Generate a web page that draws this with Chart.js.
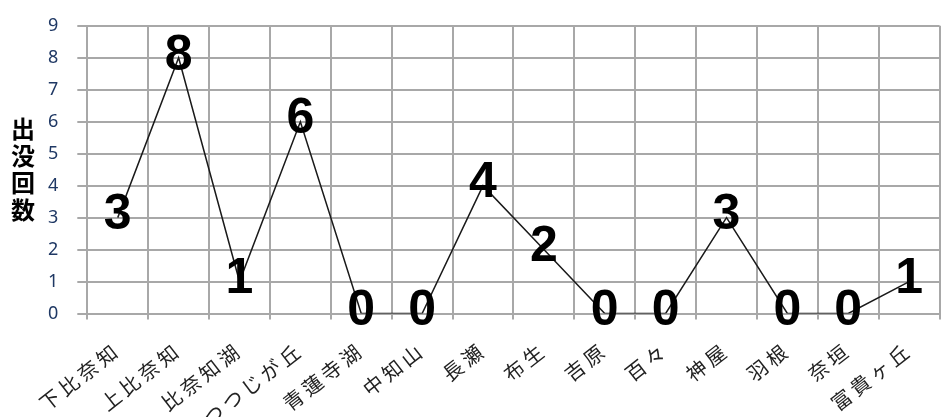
<!DOCTYPE html>
<html>
<head>
<meta charset="utf-8">
<script src="https://cdn.jsdelivr.net/npm/chart.js@4.4.1/dist/chart.umd.min.js"></script>
<style>
  html, body { margin: 0; padding: 0; background: #fff; }
</style>
</head>
<body>
<canvas id="sightingsChart" width="942" height="417"></canvas>
<script>
const areas = ["下比奈知", "上比奈知", "比奈知湖", "つつじが丘", "青蓮寺湖", "中知山", "長瀬", "布生", "吉原", "百々", "神屋", "羽根", "奈垣", "富貴ヶ丘"];
const sightings = [3, 8, 1, 6, 0, 0, 4, 2, 0, 0, 3, 0, 0, 1];
const yTitle = ["出", "没", "回", "数"];
const yMin = 0;
const yMax = 9;
const yStep = 1;

const gridColor = "#a8a8a8";

// the category names in the original are spaced out a bit
const labelSpacing = {
  id: "labelSpacing",
  beforeDraw(chart) { chart.ctx.letterSpacing = "4px"; },
  beforeDatasetsDraw(chart) { chart.ctx.letterSpacing = "0px"; }
};

// big numbers sitting on each point
const pointLabels = {
  id: "pointLabels",
  afterDatasetsDraw(chart) {
    const ctx = chart.ctx;
    const meta = chart.getDatasetMeta(0);
    ctx.save();
    ctx.font = "bold 50px 'Liberation Sans', Arial, sans-serif";
    ctx.fillStyle = "#000";
    ctx.textAlign = "center";
    ctx.textBaseline = "middle";
    meta.data.forEach((pt, i) => {
      ctx.fillText(String(sightings[i]), pt.x, pt.y - 2);
    });
    ctx.restore();
  }
};

// vertical, one character per line axis title
const stackedTitle = {
  id: "stackedTitle",
  afterDraw(chart) {
    const ctx = chart.ctx;
    const area = chart.chartArea;
    const lineH = 27;
    const top = (area.top + area.bottom) / 2 - (yTitle.length - 1) * lineH / 2;
    ctx.save();
    ctx.letterSpacing = "0px";
    ctx.font = "bold 24px 'Noto Sans CJK JP', sans-serif";
    ctx.fillStyle = "#000";
    ctx.textAlign = "center";
    ctx.textBaseline = "middle";
    yTitle.forEach((ch, i) => ctx.fillText(ch, 23, top + i * lineH));
    ctx.restore();
  }
};

new Chart(document.getElementById("sightingsChart"), {
  type: "line",
  data: {
    labels: areas,
    datasets: [{
      data: sightings,
      borderColor: "#1a1a1a",
      borderWidth: 1.5,
      pointRadius: 0,
      tension: 0,
      fill: false
    }]
  },
  options: {
    responsive: false,
    animation: false,
    layout: {
      padding: { left: 37, right: 2, top: 10, bottom: -19 }
    },
    plugins: {
      legend: { display: false },
      tooltip: { enabled: false }
    },
    scales: {
      x: {
        offset: true,
        grid: {
          offset: true,
          color: gridColor,
          lineWidth: 2,
          tickLength: 6
        },
        border: { color: gridColor, width: 2 },
        ticks: {
          autoSkip: false,
          minRotation: 38,
          maxRotation: 38,
          padding: 18,
          color: "#222",
          font: { family: "'Noto Sans CJK JP', sans-serif", size: 20 }
        }
      },
      y: {
        min: yMin,
        max: yMax,
        grid: {
          color: gridColor,
          lineWidth: 2,
          tickLength: 10
        },
        border: { color: gridColor, width: 2 },
        ticks: {
          stepSize: yStep,
          padding: 15,
          color: "#1f3864",
          font: { family: "'Noto Sans', sans-serif", size: 18 }
        }
      }
    }
  },
  plugins: [labelSpacing, pointLabels, stackedTitle]
});
</script>
</body>
</html>
